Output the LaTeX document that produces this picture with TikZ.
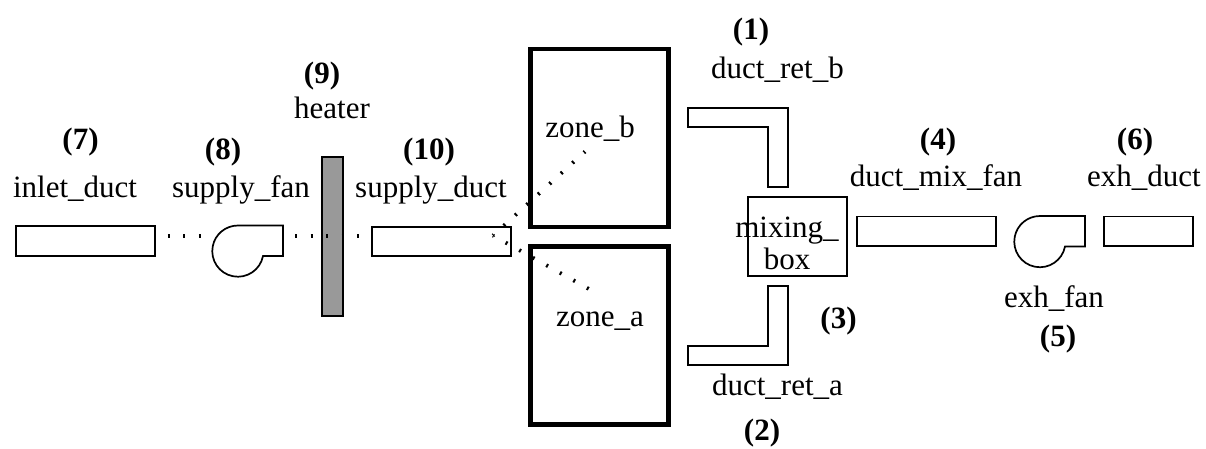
\documentclass[tikz,border=0pt]{standalone}
\usepackage{fontspec}
\setmainfont{Liberation Serif}
\begin{document}
\begin{tikzpicture}[x=1pt,y=-1pt,
  ductbox/.style={draw,line width=1.7pt,inner sep=0pt,minimum width=#1,minimum height=29.5pt},
  zonebox/.style={draw,line width=4.2pt,inner sep=0pt,minimum width=138pt,minimum height=178pt},
  duct/.style={draw,line width=1.7pt,line join=miter},
  fan/.style={draw,line width=1.7pt},
  flow/.style={line width=3.8pt,dash pattern=on 2pt off 13.5pt},
  lab/.style={anchor=base,inner sep=0pt,font=\fontsize{31}{32}\selectfont},
  num/.style={lab,font=\fontsize{31}{32}\selectfont\bfseries}]
\useasboundingbox (0,0) rectangle (1206,448);
% ducts
\node[ductbox=139pt] (inlet) at (85.5,241) {};
\node[ductbox=139pt] (supply) at (441.5,241.5) {};
\node[ductbox=139pt] (mixfan) at (926.5,231.3) {};
\node[ductbox=89pt] (exhduct) at (1148.5,231.3) {};
% heater
\node[draw,line width=1.7pt,fill=black!40,inner sep=0pt,minimum width=21pt,minimum height=159pt] (heater) at (332.5,236.5) {};
% zones
\node[zonebox] (zoneb) at (599.5,137.7) {};
\node[zonebox] (zonea) at (599.5,335.5) {};
% mixing box
\node[draw,line width=1.7pt,inner sep=0pt,minimum width=99.5pt,minimum height=79.3pt] (mix) at (797.5,236.4) {};
% fans
\draw[fan] (263,256) arc[start angle=11,end angle=270,radius=25.6] -- (283,225.52) -- (283,256) -- cycle;
\draw[fan] (1065,246.5) arc[start angle=11,end angle=270,radius=25.6] -- (1085,216.02) -- (1085,246.5) -- cycle;
\coordinate (fanin) at (207,236);
\coordinate (fanout) at (283,236);
\coordinate (hub) at (493,235.5);
\coordinate (zbin) at (585,151.6);
\coordinate (zain) at (589,289);
% return ducts
\draw[duct] (688,108) -- (788,108) -- (788,186.7) -- (768,186.7) -- (768,127.3) -- (688,127.3) -- cycle;
\draw[duct] (768,286) -- (788,286) -- (788,365) -- (688,365) -- (688,345.7) -- (768,345.7) -- cycle;
% connectors
\draw[flow,dash phase=3.5pt] (inlet.east |- fanin) -- (fanin);
\draw[flow,dash phase=3.5pt] (fanout) -- (supply.west |- fanout);
\draw[flow,dash phase=1pt] (hub) -- (zbin);
\draw[flow,dash phase=1pt] (hub) -- (zain);
% labels
\node[num] (n7) at (80.5,149) {(7)};
\node[lab] (t7) at (75,197) {inlet\_duct};
\node[num] (n8) at (223,159) {(8)};
\node[lab] (t8) at (241,197) {supply\_fan};
\node[num] (n9) at (322,83) {(9)};
\node[lab] (t9) at (332,118) {heater};
\node[num] (n10) at (429,159) {(10)};
\node[lab] (t10) at (431,197) {supply\_duct};
\node[num] (n1) at (751,39) {(1)};
\node[lab] (t1) at (777.5,78) {duct\_ret\_b};
\node[lab] (tzb) at (590,137) {zone\_b};
\node[lab] (tza) at (600,326) {zone\_a};
\node[lab] (tm1) at (787,237) {mixing\_};
\node[lab] (tm2) at (787,269) {box};
\node[num] (n3) at (838.5,328) {(3)};
\node[num] (n4) at (938,149) {(4)};
\node[lab] (t4) at (936,186) {duct\_mix\_fan};
\node[num] (n6) at (1135,149) {(6)};
\node[lab] (t6) at (1144,186) {exh\_duct};
\node[lab] (t5) at (1054,307) {exh\_fan};
\node[num] (n5) at (1058,346) {(5)};
\node[lab] (t2) at (777.5,395) {duct\_ret\_a};
\node[num] (n2) at (762,440.5) {(2)};
\end{tikzpicture}
\end{document}
